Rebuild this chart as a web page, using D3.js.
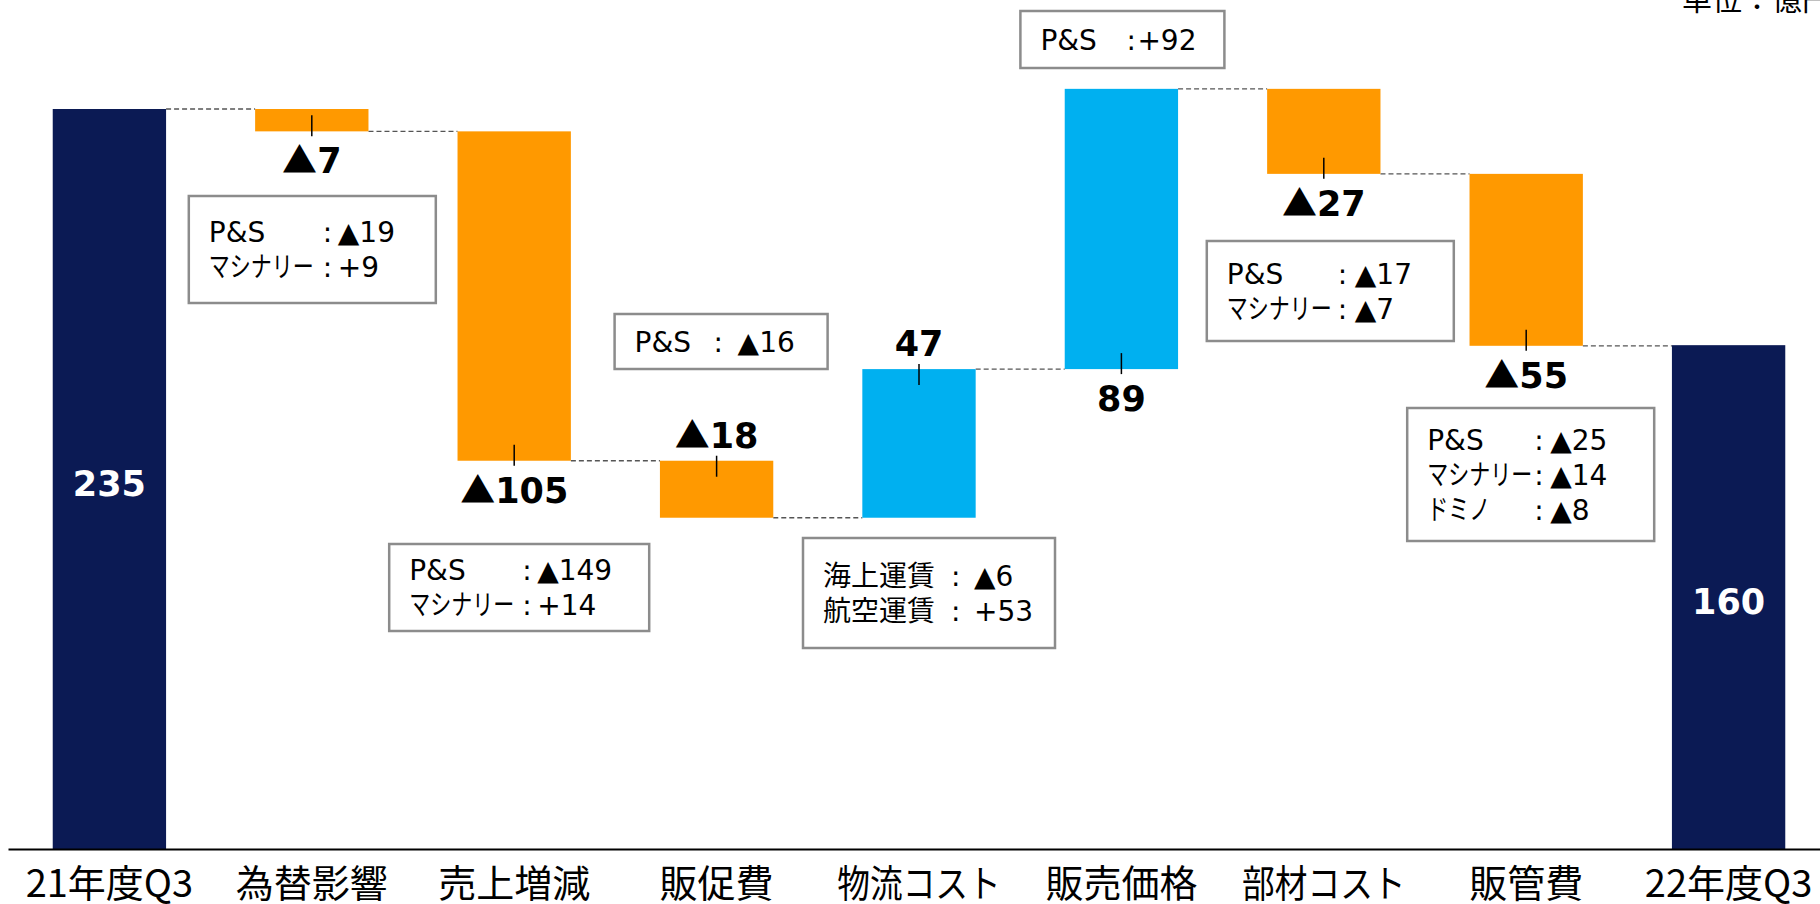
<!DOCTYPE html>
<html>
<head>
<meta charset="utf-8">
<script src="https://cdn.jsdelivr.net/npm/d3@7"></script>
<style>
  body { margin: 0; background: #fff; overflow: hidden; }
  svg { display: block; }
</style>
</head>
<body>
<svg id="chart" width="1820" height="904"></svg>
<script>
// --- data (億円) ---
const categories = ['21年度Q3', '為替影響', '売上増減', '販促費', '物流コスト', '販売価格', '部材コスト', '販管費', '22年度Q3']
const totals = [235, 160] // first and last bar
const deltas = [-7.1, -104.6, -18.1, 47.2, 89.0, -27.0, -54.6] // steps in between
const notes = [
  [['P&S', '▲19'], ['マシナリー', '+9']],
  [['P&S', '▲149'], ['マシナリー', '+14']],
  [['P&S', '▲16']],
  [['海上運賃', '▲6'], ['航空運賃', '+53']],
  [['P&S', '+92']],
  [['P&S', '▲17'], ['マシナリー', '▲7']],
  [['P&S', '▲25'], ['マシナリー', '▲14'], ['ドミノ', '▲8']]
]
const unitLabel = '単位：億円'

const color = { total: '#0b1a54', down: '#ff9900', up: '#00b0f0' }
const latin = "'DejaVu Sans', 'Noto Sans CJK JP', sans-serif"
const cjk = "'Noto Sans CJK JP', 'DejaVu Sans', sans-serif"
const kana = /[\u30a0-\u30ff]/

// where each value label sits
const labelSide = ['in', 'below', 'below', 'above', 'above', 'below', 'below', 'below', 'in']

// callout boxes, one per step bar (offset from the bar centre)
const noteLayout = [
  { dx: -123, top: 196, w: 247, h: 107, colon: 114, gap: 12 },
  { dx: -125, top: 544, w: 260, h: 87, colon: 113, gap: 12 },
  { dx: -102, top: 314, w: 213, h: 55, colon: 79, gap: 21 },
  { dx: -116, top: 538, w: 252, h: 110, colon: 128, gap: 20 },
  { dx: -101, top: 11, w: 204, h: 57, colon: 86, gap: 8 },
  { dx: -117, top: 241, w: 247, h: 100, colon: 111, gap: 14 },
  { dx: -119, top: 408, w: 247, h: 133, colon: 107, gap: 13 }
]

// build the waterfall steps
let level = totals[0]
const steps = categories.map((name, i) => {
  if (i === 0) return { name, y0: 0, y1: totals[0], value: totals[0], type: 'total' }
  if (i === categories.length - 1) return { name, y0: 0, y1: totals[1], value: totals[1], type: 'total' }
  const d = deltas[i - 1]
  const s = { name, y0: level, y1: level + d, value: d, type: d < 0 ? 'down' : 'up' }
  level += d
  return s
})

const svg = d3.select('#chart')

const x = d3.scaleBand()
  .domain(categories)
  .range([8, 1830])
  .paddingInner(0.44)
  .paddingOuter(0.221)

const y = d3.scaleLinear()
  .domain([0, totals[0]])
  .range([849, 109])

const bw = x.bandwidth()
const cx = d => x(d.name) + bw / 2
const barTop = d => y(Math.max(d.y0, d.y1))
const barBottom = d => y(Math.min(d.y0, d.y1))
const sideOf = d => labelSide[categories.indexOf(d.name)]

// connectors
const links = steps.slice(0, -1).map((d, i) => ({ from: d, to: steps[i + 1], v: d.y1 }))
svg.append('g')
  .selectAll('line')
  .data(links)
  .join('line')
  .attr('x1', d => x(d.from.name) + bw)
  .attr('x2', d => x(d.to.name))
  .attr('y1', d => y(d.v))
  .attr('y2', d => y(d.v))
  .attr('stroke', '#555')
  .attr('stroke-width', 1.3)
  .attr('stroke-dasharray', '5,3')

// bars
svg.append('g')
  .selectAll('rect')
  .data(steps)
  .join('rect')
  .attr('x', d => x(d.name))
  .attr('width', bw)
  .attr('y', barTop)
  .attr('height', d => barBottom(d) - barTop(d))
  .attr('fill', d => color[d.type])

// axis
const axis = svg.append('g')
  .attr('transform', `translate(0, ${y(0)})`)
  .call(d3.axisBottom(x).tickSize(0).tickSizeOuter(0))
axis.select('.domain').attr('stroke', '#000').attr('stroke-width', 2)
axis.selectAll('text')
  .attr('y', 48)
  .attr('dy', 0)
  .attr('fill', '#000')
  .style('font-family', cjk)
  .style('font-size', '38px')
  .each(function (d) {
    // kana in the source font run narrower
    if (kana.test(d)) {
      const w = this.getComputedTextLength()
      d3.select(this).attr('textLength', w * 0.86).attr('lengthAdjust', 'spacingAndGlyphs')
    }
  })

// small ticks on the label side of each step bar
const stepBars = steps.filter(d => d.type !== 'total')
svg.append('g')
  .selectAll('line')
  .data(stepBars)
  .join('line')
  .attr('x1', cx)
  .attr('x2', cx)
  .attr('y1', d => sideOf(d) === 'above' ? barTop(d) - 5 : barBottom(d) - 16)
  .attr('y2', d => sideOf(d) === 'above' ? barTop(d) + 16 : barBottom(d) + 5)
  .attr('stroke', '#000')
  .attr('stroke-width', 1.5)

// value labels
const vals = svg.append('g')
  .selectAll('text')
  .data(steps)
  .join('text')
  .attr('x', cx)
  .attr('y', d => {
    const side = sideOf(d)
    if (side === 'in') return (barTop(d) + barBottom(d)) / 2 + 17
    if (side === 'above') return barTop(d) - 13
    return barBottom(d) + 42
  })
  .attr('text-anchor', 'middle')
  .attr('fill', d => d.type === 'total' ? '#fff' : '#000')
  .style('font-family', latin)
  .style('font-weight', 'bold')
  .style('font-size', '35px')
vals.filter(d => d.value < 0)
  .append('tspan')
  .style('font-family', cjk)
  .text('▲')
vals.append('tspan')
  .text(d => Math.round(Math.abs(d.value)))

// callout boxes
const lineStep = 35
stepBars.forEach((d, i) => {
  const L = noteLayout[i]
  const lines = notes[i]
  const g = svg.append('g')
  const bx = cx(d) + L.dx
  g.append('rect')
    .attr('x', bx)
    .attr('y', L.top)
    .attr('width', L.w)
    .attr('height', L.h)
    .attr('fill', '#fff')
    .attr('stroke', '#8c8c8c')
    .attr('stroke-width', 2.5)
  const tx = bx + 20
  const first = L.top + L.h / 2 + 10 - (lines.length - 1) * lineStep / 2
  lines.forEach((ln, j) => {
    const by = first + j * lineStep
    g.append('text')
      .attr('transform', `translate(${tx}, ${by}) scale(${kana.test(ln[0]) ? 0.75 : 1}, 1)`)
      .style('font-family', latin)
      .style('font-size', '28px')
      .attr('fill', '#000')
      .text(ln[0])
    g.append('text')
      .attr('x', tx + L.colon)
      .attr('y', by)
      .style('font-family', latin)
      .style('font-size', '28px')
      .attr('fill', '#000')
      .text(':')
    g.append('text')
      .attr('x', tx + L.colon + 3 + L.gap)
      .attr('y', by)
      .style('font-family', latin)
      .style('font-size', '28px')
      .attr('fill', '#000')
      .text(ln[1])
  })
})

// unit note, partly outside the frame as in the source
svg.append('text')
  .attr('x', 1682)
  .attr('y', 10)
  .style('font-family', cjk)
  .style('font-size', '30px')
  .attr('fill', '#000')
  .text(unitLabel)
</script>
</body>
</html>
